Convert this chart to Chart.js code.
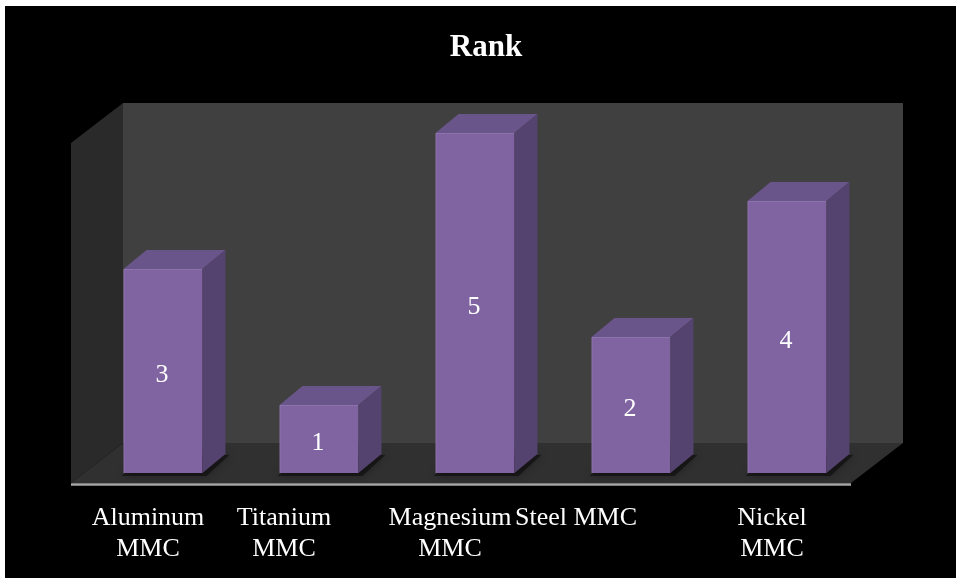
<!DOCTYPE html>
<html>
<head>
<meta charset="utf-8">
<script src="https://cdn.jsdelivr.net/npm/chart.js@4.4.0/dist/chart.umd.min.js"></script>
<style>
html,body{margin:0;padding:0;background:#fff;overflow:hidden;width:956px;height:578px}
#wrap{position:absolute;left:5px;top:6px;width:951px;height:572px;background:#000}
canvas{display:block}
</style>
</head>
<body>
<div id="wrap"><canvas id="c" width="951" height="572"></canvas></div>
<script>
// ---- data ----
const chartTitle = "Rank";
const categories = ["Aluminum MMC", "Titanium MMC", "Magnesium MMC", "Steel MMC", "Nickel MMC"];
const tickLabels = [["Aluminum", "MMC"], ["Titanium", "MMC"], ["Magnesium", "MMC"], ["Steel MMC"], ["Nickel", "MMC"]];
const rankValues = [3, 1, 5, 2, 4];
const yMin = 0;
const yMax = 5;

// ---- style ----
const STYLE = {
  front: "#8064a2",
  top: "#6a558b",
  side: "#54436f",
  backWall: "#404040",
  sideWall: "#2a2a2a",
  floor: "#303030",
  axisLine: "#a6a6a6",
  depthX: 23, depthY: 19,          // bar depth
  frontX: -14, frontY: 10,         // floor front plane offset from bar front plane
  backX: 38, backY: -30,           // back wall offset from bar front plane
  labelShift: [-15, -35, -25, -55, -15],
  serif: '"Liberation Serif", "Times New Roman", serif'
};

const threeD = {
  id: "threeD",
  beforeDatasetsDraw(chart) {
    const ctx = chart.ctx, a = chart.chartArea, S = STYLE;
    ctx.save();
    // back wall
    ctx.fillStyle = S.backWall;
    ctx.fillRect(a.left + S.backX, a.top + S.backY, a.right - a.left, a.bottom - a.top);
    // side wall
    ctx.fillStyle = S.sideWall;
    ctx.beginPath();
    ctx.moveTo(a.left + S.frontX, a.top + S.frontY);
    ctx.lineTo(a.left + S.backX, a.top + S.backY);
    ctx.lineTo(a.left + S.backX, a.bottom + S.backY);
    ctx.lineTo(a.left + S.frontX, a.bottom + S.frontY);
    ctx.closePath();
    ctx.fill();
    // floor
    const floorPath = () => {
      ctx.beginPath();
      ctx.moveTo(a.left + S.frontX, a.bottom + S.frontY);
      ctx.lineTo(a.left + S.backX, a.bottom + S.backY);
      ctx.lineTo(a.right + S.backX, a.bottom + S.backY);
      ctx.lineTo(a.right + S.frontX, a.bottom + S.frontY);
      ctx.closePath();
    };
    ctx.fillStyle = S.floor;
    floorPath();
    ctx.fill();
    // axis line
    ctx.strokeStyle = S.axisLine;
    ctx.lineWidth = 2.5;
    ctx.beginPath();
    ctx.moveTo(a.left + S.frontX, a.bottom + S.frontY + 1.5);
    ctx.lineTo(a.right + S.frontX, a.bottom + S.frontY + 1.5);
    ctx.stroke();
    // soft bar shadows on floor
    const meta = chart.getDatasetMeta(0);
    ctx.save();
    floorPath();
    ctx.clip();
    meta.data.forEach(bar => {
      const p = bar.getProps(["x", "base", "width"], true);
      const x0 = p.x - p.width / 2, x1 = p.x + p.width / 2, b = p.base;
      ctx.fillStyle = "rgba(0,0,0,0.45)";
      ctx.shadowColor = "rgba(0,0,0,0.6)";
      ctx.shadowBlur = 8;
      ctx.beginPath();
      ctx.moveTo(x0 - 2, b + 3);
      ctx.lineTo(x1 + 4, b + 3);
      ctx.lineTo(x1 + S.depthX + 4, b - S.depthY + 1);
      ctx.lineTo(x0 + S.depthX, b - S.depthY + 1);
      ctx.closePath();
      ctx.fill();
    });
    ctx.restore();
    ctx.restore();
  },
  afterDatasetsDraw(chart) {
    const ctx = chart.ctx, S = STYLE;
    const meta = chart.getDatasetMeta(0);
    ctx.save();
    meta.data.forEach((bar, i) => {
      const p = bar.getProps(["x", "y", "base", "width"], true);
      const x0 = p.x - p.width / 2, x1 = p.x + p.width / 2;
      const dx = S.depthX, dy = S.depthY;
      // top face
      ctx.fillStyle = S.top;
      ctx.beginPath();
      ctx.moveTo(x0, p.y);
      ctx.lineTo(x1, p.y);
      ctx.lineTo(x1 + dx, p.y - dy);
      ctx.lineTo(x0 + dx, p.y - dy);
      ctx.closePath();
      ctx.fill();
      // side face
      ctx.fillStyle = S.side;
      ctx.beginPath();
      ctx.moveTo(x1, p.y);
      ctx.lineTo(x1 + dx, p.y - dy);
      ctx.lineTo(x1 + dx, p.base - dy);
      ctx.lineTo(x1, p.base);
      ctx.closePath();
      ctx.fill();
      // subtle edge highlights
      ctx.strokeStyle = "rgba(255,255,255,0.10)";
      ctx.lineWidth = 1;
      ctx.beginPath();
      ctx.moveTo(x0 + 0.5, p.base);
      ctx.lineTo(x0 + 0.5, p.y + 0.5);
      ctx.lineTo(x1 - 0.5, p.y + 0.5);
      ctx.stroke();
      // data label
      ctx.fillStyle = "#ffffff";
      ctx.font = "26px " + S.serif;
      ctx.textAlign = "center";
      ctx.textBaseline = "middle";
      ctx.fillText(String(rankValues[i]), p.x - 1, (p.y + p.base) / 2 + 4);
    });
    ctx.restore();
  },
  afterDraw(chart) {
    const ctx = chart.ctx, a = chart.chartArea, S = STYLE;
    const xs = chart.scales.x;
    ctx.save();
    ctx.fillStyle = "#ffffff";
    // title
    ctx.font = "bold 31px " + S.serif;
    ctx.textAlign = "center";
    ctx.textBaseline = "alphabetic";
    ctx.fillText(chartTitle, 481, 50);
    // category labels
    ctx.font = "26px " + S.serif;
    tickLabels.forEach((lines, i) => {
      const x = xs.getPixelForValue(i) + S.labelShift[i];
      lines.forEach((t, k) => {
        ctx.fillText(t, x, a.bottom + 52 + k * 31);
      });
    });
    ctx.restore();
  }
};

new Chart(document.getElementById("c"), {
  type: "bar",
  data: {
    labels: categories,
    datasets: [{
      label: chartTitle,
      data: rankValues,
      backgroundColor: STYLE.front,
      borderWidth: 0,
      barPercentage: 0.506,
      categoryPercentage: 1.0
    }]
  },
  options: {
    responsive: false,
    animation: false,
    devicePixelRatio: 1,
    layout: { padding: { left: 80, right: 91, top: 127, bottom: 105 } },
    plugins: {
      legend: { display: false },
      title: { display: false },
      tooltip: { enabled: false }
    },
    scales: {
      x: { display: false, offset: true },
      y: { display: false, min: yMin, max: yMax }
    }
  },
  plugins: [threeD]
});
</script>
</body>
</html>
